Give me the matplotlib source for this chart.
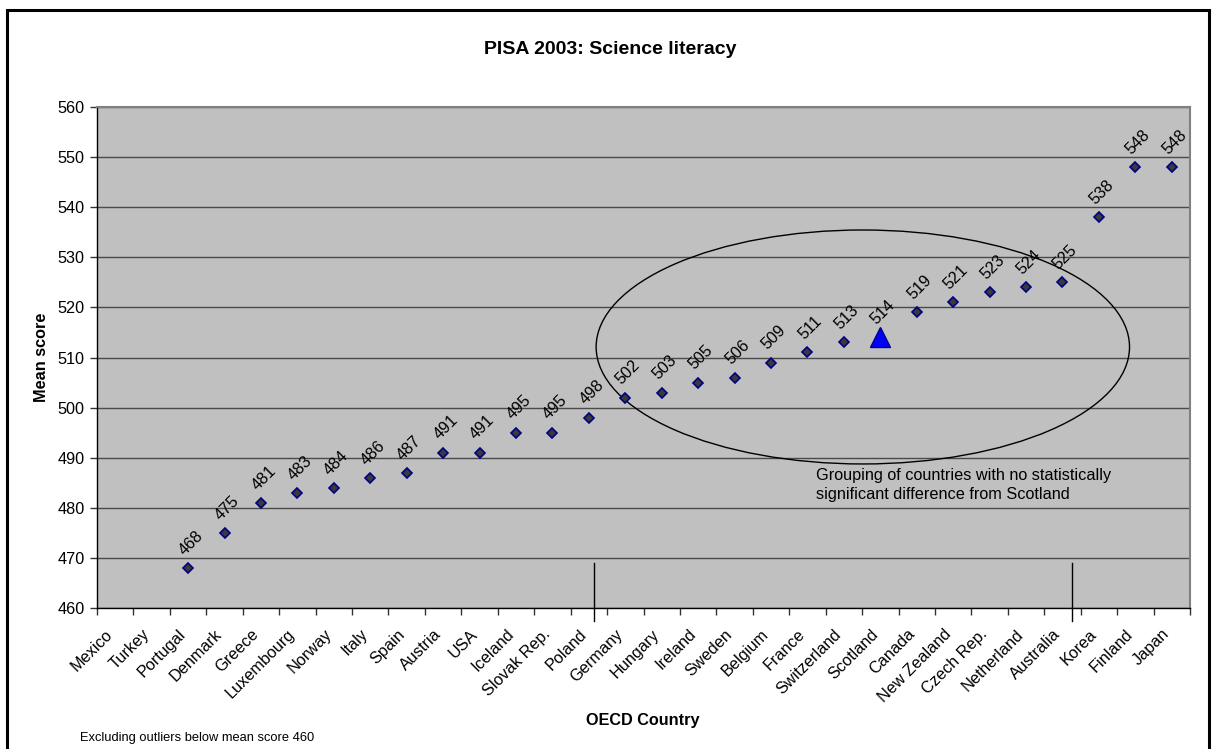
import numpy as np
import matplotlib
matplotlib.use("Agg")
import matplotlib.pyplot as plt
import matplotlib.transforms as mtransforms
from matplotlib.patches import Ellipse, Rectangle

plt.rcParams['font.family'] = ['Liberation Sans', 'DejaVu Sans']

countries = ["Mexico", "Turkey", "Portugal", "Denmark", "Greece", "Luxembourg", "Norway",
             "Italy", "Spain", "Austria", "USA", "Iceland", "Slovak Rep.", "Poland",
             "Germany", "Hungary", "Ireland", "Sweden", "Belgium", "France", "Switzerland",
             "Scotland", "Canada", "New Zealand", "Czech Rep.", "Netherland", "Australia",
             "Korea", "Finland", "Japan"]
# Mexico and Turkey are below 460 (excluded from view)
scores = [np.nan, np.nan, 468, 475, 481, 483, 484, 486, 487, 491, 491, 495, 495, 498,
          502, 503, 505, 506, 509, 511, 513, 514, 519, 521, 523, 524, 525, 538, 548, 548]
highlight = "Scotland"
yticks = [460, 470, 480, 490, 500, 510, 520, 530, 540, 550, 560]

fig = plt.figure(figsize=(12.16, 7.49), dpi=100)
ax = fig.add_axes([97/1216, 1-608/749, (1190-97)/1216, (608-107)/749])
ax.set_facecolor('#C0C0C0')

x = np.arange(len(countries))
hi = countries.index(highlight)
mask = np.array([c != highlight for c in countries])
xs = x[mask]
ys = np.array(scores, dtype=float)[mask]
ax.plot(xs, ys, linestyle='none', marker='D', markersize=5.5, markerfacecolor='#3a3a3a',
        markeredgecolor='#000080', markeredgewidth=1.2, zorder=4, clip_on=False)
ax.plot([x[hi]], [scores[hi]], linestyle='none', marker='^', markersize=14,
        markerfacecolor='#0000FF', markeredgecolor='#000080', markeredgewidth=1, zorder=4)

for xi, v in zip(x, scores):
    if np.isnan(v):
        continue
    ax.annotate(f"{int(v)}", (xi, v), xytext=(2, 18), textcoords='offset points',
                rotation=45, ha='center', va='center', fontsize=11.7, zorder=5)

ax.set_xlim(-0.5, len(countries) - 0.5)
ax.set_ylim(460, 560)
ax.set_yticks(yticks)
ax.set_yticklabels([str(t) for t in yticks], fontsize=11.7)
ax.yaxis.grid(True, color='#4a4a4a', linewidth=1)
ax.set_axisbelow(True)

ax.set_xticks(np.arange(len(countries) + 1) - 0.5)
ax.set_xticklabels([])
ax.set_xticks(x, minor=True)
ax.set_xticklabels(countries, minor=True, rotation=45, ha='right', va='top',
                   rotation_mode='anchor', fontsize=11.7)
ax.tick_params(axis='x', which='major', direction='out', length=5, width=1, color='#333333')
ax.tick_params(axis='x', which='minor', length=0, pad=9)
ax.tick_params(axis='y', direction='out', length=5, width=1, color='#333333', pad=4)
shift = mtransforms.ScaledTranslation(-10/100, -6/100, fig.dpi_scale_trans)
for lab in ax.get_xticklabels(minor=True):
    lab.set_transform(lab.get_transform() + shift)

for s in ['left', 'bottom']:
    ax.spines[s].set_color('black')
    ax.spines[s].set_linewidth(1)
for s in ['top', 'right']:
    ax.spines[s].set_color('#808080')
    ax.spines[s].set_linewidth(1.5)

ax.set_xlabel("OECD Country", fontsize=11.7, fontweight='bold')
ax.set_ylabel("Mean score", fontsize=11.7, fontweight='bold')
ax.xaxis.set_label_coords((643-97)/(1190-97), -(713-608)/(608-107))
ax.yaxis.set_label_coords(-(97-49)/(1190-97), (608-357)/(608-107))

fig.text(610/1216, 1-50/749, "PISA 2003: Science literacy", ha='center', va='center',
         fontsize=14, fontweight='bold')
fig.text(80/1216, 1-738/749, "Excluding outliers below mean score 460", ha='left',
         va='center', fontsize=9.3)

# ellipse grouping
ell = Ellipse((20.52, 512.1), 14.64, 46.7, fill=False, edgecolor='black', linewidth=1, zorder=3)
ax.add_patch(ell)
ax.text(19.23, 487.9, "Grouping of countries with no statistically\nsignificant difference from Scotland",
        ha='left', va='top', fontsize=11.7, linespacing=1.32, zorder=5)

# separator lines
for xv in [13.15, 26.26]:
    ax.plot([xv, xv], [469, 457.4], color='black', linewidth=1, clip_on=False, zorder=5)

# outer border
fig.patches.append(Rectangle((7/1216, -0.05), (1209-7)/1216, 1-10/749 + 0.05,
                             transform=fig.transFigure, fill=False, edgecolor='black',
                             linewidth=2.2))

fig.savefig("out.png", dpi=100, facecolor='white')
